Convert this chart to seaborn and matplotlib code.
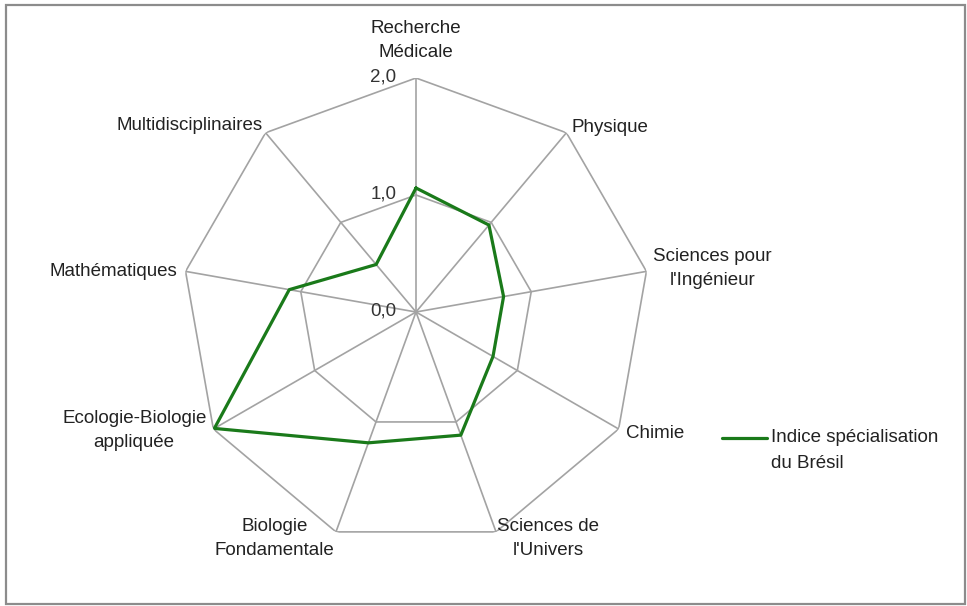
import numpy as np
import matplotlib
matplotlib.use("Agg")
import matplotlib.pyplot as plt
import seaborn as sns
import pandas as pd
from matplotlib.patches import Rectangle
from matplotlib.lines import Line2D

categories = ["Recherche\nMédicale", "Physique", "Sciences pour\nl'Ingénieur", "Chimie",
              "Sciences de\nl'Univers", "Biologie\nFondamentale",
              "Ecologie-Biologie\nappliquée", "Mathématiques", "Multidisciplinaires"]
values = [1.06, 0.97, 0.76, 0.76, 1.12, 1.19, 1.99, 1.10, 0.53]
ring_levels = [1.0, 2.0]
tick_labels = ["0,0", "1,0", "2,0"]
series_name = "Indice spécialisation\ndu Brésil"

sns.set_theme(style="white")
plt.rcParams['font.family'] = ['Liberation Sans Narrow', 'Liberation Sans', 'DejaVu Sans']

FS = 13.5
fig = plt.figure(figsize=(9.67, 6.06), dpi=100)
fig.patch.set_facecolor("white")
fig.patches.append(Rectangle((6/967, 1-604/606), 959/967, 599/606, transform=fig.transFigure,
                             fill=False, edgecolor="#8c8c8c", linewidth=1.6, zorder=0))

ax = fig.add_axes([182/967, 60/606, 468/967, 468/606], projection="polar")
ax.set_theta_offset(np.pi/2)
ax.set_theta_direction(-1)
ax.set_ylim(0, 2.0)
ax.grid(False)
ax.spines['polar'].set_visible(False)
ax.set_xticks([])
ax.set_yticks([])
ax.set_facecolor("none")

n = len(categories)
angles = np.linspace(0, 2*np.pi, n, endpoint=False)
closed_angles = np.append(angles, 2*np.pi)

grid_color = "#a3a3a3"
for lvl in ring_levels:
    ax.plot(closed_angles, [lvl]*(n+1), color=grid_color, lw=1.2, zorder=1)
for a in angles:
    ax.plot([a, a], [0, ring_levels[-1]], color=grid_color, lw=1.2, zorder=1)

green = "#1a7a1a"
df = pd.DataFrame({"theta": closed_angles, "r": values + [values[0]], "serie": series_name})
sns.lineplot(data=df, x="theta", y="r", hue="serie", palette=[green], lw=2.3,
             sort=True, ax=ax, zorder=3, legend=False)
ax.set_xlabel("")
ax.set_ylabel("")

# radial tick labels
for lvl, lab in zip([0.0] + ring_levels, tick_labels):
    ax.annotate(lab, xy=(0, lvl), xytext=(-14, 1), textcoords="offset points",
                ha="right", va="center", fontsize=FS, color="#333333")

# category labels
specs = [
    ((0, 12), "center", "bottom"),
    ((4, 4), "left", "center"),
    ((5, 2), "left", "center"),
    ((5, -3), "left", "center"),
    ((1, -5), "left", "center"),
    ((-1, -5), "right", "center"),
    ((-5, -1), "right", "center"),
    ((-6, 0), "right", "center"),
    ((-2, 5), "right", "center"),
]
for a, lab, (off, ha, va) in zip(angles, categories, specs):
    ax.annotate(lab, xy=(a, 2.0), xytext=off, textcoords="offset points",
                ha=ha, va=va, multialignment="center", fontsize=FS, color="#222222",
                linespacing=1.55, annotation_clip=False)

# legend (drawn as figure artists)
ly = 1 - 438/606
fig.add_artist(Line2D([722/967, 767/967], [ly, ly], color=green, lw=2.3,
                      transform=fig.transFigure))
fig.text(771/967, ly, series_name.split("\n")[0], ha="left", va="center",
         fontsize=FS, color="#222222")
fig.text(771/967, 1 - 463/606, series_name.split("\n")[1], ha="left", va="center",
         fontsize=FS, color="#222222")

fig.savefig("out.png", dpi=100, facecolor="white")
